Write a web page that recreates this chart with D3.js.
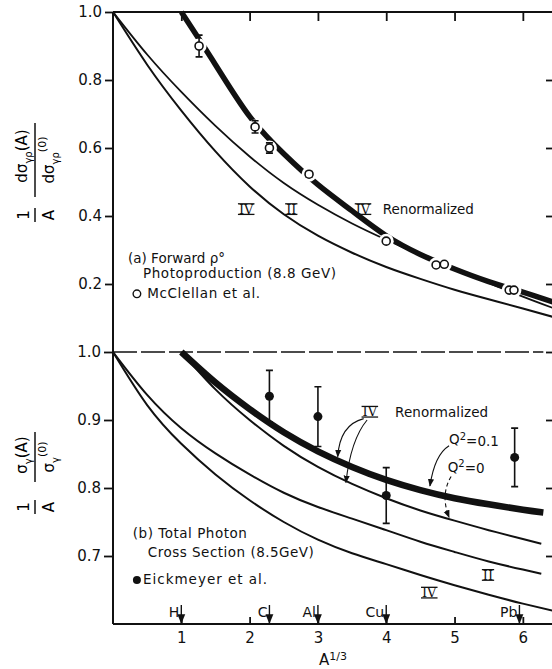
<!DOCTYPE html>
<head>
    <meta charset="utf-8">
    <title>Shadowing in photoproduction</title>
    <script src="https://d3js.org/d3.v7.min.js"></script>
    <style>
        body { margin: 0; background: #fff; }
        svg { display: block; font-family: "DejaVu Sans", sans-serif; }
        .roman { font-family: "DejaVu Serif", serif; }
    </style>
</head>
<body>
    <svg id="chart" width="552" height="669"></svg>
    <script>
        // ---- data ----
        var xTicks = [1, 2, 3, 4, 5, 6];
        var topYTicks = [0.2, 0.4, 0.6, 0.8, 1.0];
        var botYTicks = [0.7, 0.8, 0.9, 1.0];

        // (a) forward rho photoproduction
        var topIVx = [0, 0.5, 1, 1.5, 2, 2.5, 3, 3.5, 4, 4.5, 5, 5.5, 6, 6.5];
        var topIVy = [1.0, 0.845, 0.71, 0.59, 0.487, 0.405, 0.342, 0.292, 0.25, 0.215, 0.183, 0.155, 0.128, 0.10];
        var topIIx = [0, 0.5, 1, 1.5, 2, 2.5, 3, 3.5, 4, 4.5, 5, 5.5, 6, 6.5];
        var topIIy = [1.0, 0.875, 0.765, 0.665, 0.575, 0.497, 0.433, 0.378, 0.33, 0.285, 0.243, 0.203, 0.163, 0.125];
        var topRenX = [1.0, 1.5, 2.0, 2.5, 3.0, 3.5, 4.0, 4.5, 5.0, 5.5, 6.0, 6.5];
        var topRenY = [1.0, 0.845, 0.693, 0.583, 0.492, 0.415, 0.342, 0.287, 0.244, 0.207, 0.176, 0.143];
        var mcclellanX = [1.26, 2.08, 2.29, 2.87, 4.0, 4.73, 4.85, 5.80, 5.87];
        var mcclellanY = [0.90, 0.662, 0.60, 0.523, 0.326, 0.256, 0.258, 0.182, 0.182];
        var mcclellanErr = [0.032, 0.018, 0.015, 0.008, 0, 0, 0, 0, 0];

        // (b) total photon cross section
        var botIVx = [0, 0.5, 1, 1.5, 2, 2.5, 3, 3.5, 4, 4.5, 5, 5.5, 6, 6.5];
        var botIVy = [1.0, 0.922, 0.865, 0.82, 0.782, 0.75, 0.724, 0.704, 0.688, 0.672, 0.657, 0.643, 0.63, 0.618];
        var botIIx = [0, 0.5, 1, 1.5, 2, 2.5, 3, 3.5, 4, 4.5, 5, 5.5, 6, 6.27];
        var botIIy = [1.0, 0.937, 0.888, 0.851, 0.82, 0.793, 0.772, 0.755, 0.738, 0.721, 0.706, 0.692, 0.68, 0.674];
        var botQ0x = [1, 1.5, 2, 2.5, 3, 3.5, 4, 4.5, 5, 5.5, 6, 6.27];
        var botQ0y = [1.0, 0.945, 0.9, 0.862, 0.831, 0.806, 0.785, 0.767, 0.752, 0.738, 0.725, 0.718];
        var botQ01x = [1, 1.5, 2, 2.5, 3, 3.5, 4, 4.5, 5, 5.5, 6, 6.3];
        var botQ01y = [1.0, 0.955, 0.916, 0.882, 0.854, 0.831, 0.812, 0.797, 0.785, 0.776, 0.768, 0.764];
        var eickX = [2.29, 3.0, 4.0, 5.88];
        var eickY = [0.935, 0.905, 0.789, 0.845];
        var eickErr = [0.038, 0.044, 0.041, 0.043];

        var elements = ["H", "C", "Al", "Cu", "Pb"];
        var elementX = [1.0, 2.29, 3.0, 4.0, 5.95];

        // ---- scales ----
        var svg = d3.select("#chart");
        var x = d3.scaleLinear().domain([0, 6.5]).range([113, 557]);
        var yT = d3.scaleLinear().domain([0, 1]).range([352, 12]);
        var yB = d3.scaleLinear().domain([0.6, 1.0]).range([624, 352]);
        var fmt = d3.format(".1f");

        svg.append("defs").append("marker")
            .attr("id", "arr").attr("viewBox", "0 0 10 10")
            .attr("refX", 9).attr("refY", 5)
            .attr("markerWidth", 7).attr("markerHeight", 7)
            .attr("orient", "auto-start-reverse")
            .append("path").attr("d", "M0,1 L10,5 L0,9 Z").attr("fill", "#111");

        function pts(xs, ys) { return xs.map(function (v, i) { return [v, ys[i]]; }); }

        function curve(data, yScale, w, dash) {
            var line = d3.line().x(function (d) { return x(d[0]); })
                .y(function (d) { return yScale(d[1]); })
                .curve(d3.curveNatural);
            svg.append("path").datum(data).attr("d", line)
                .attr("fill", "none").attr("stroke", "#111")
                .attr("stroke-width", w).attr("stroke-linecap", "butt")
                .attr("stroke-dasharray", dash || null);
        }

        // ---- axes ----
        svg.append("line").attr("x1", x(0)).attr("x2", x(0)).attr("y1", yT(1)).attr("y2", yB(0.6))
            .attr("stroke", "#111").attr("stroke-width", 2);
        svg.append("line").attr("x1", x(0)).attr("x2", x(6.5)).attr("y1", yT(1)).attr("y2", yT(1))
            .attr("stroke", "#111").attr("stroke-width", 2);
        svg.append("line").attr("x1", x(0)).attr("x2", x(6.5)).attr("y1", yB(0.6)).attr("y2", yB(0.6))
            .attr("stroke", "#111").attr("stroke-width", 2);
        svg.append("line").attr("x1", x(0)).attr("x2", x(6.3)).attr("y1", yB(1)).attr("y2", yB(1))
            .attr("stroke", "#111").attr("stroke-width", 1.4).attr("stroke-dasharray", "24,4");

        var axT = svg.append("g").attr("transform", "translate(" + x(0) + ",0)")
            .call(d3.axisLeft(yT).tickValues(topYTicks).tickFormat(fmt).tickSize(8).tickPadding(3));
        var axB = svg.append("g").attr("transform", "translate(" + x(0) + ",0)")
            .call(d3.axisLeft(yB).tickValues(botYTicks).tickFormat(fmt).tickSize(9).tickPadding(3));
        var axTr = svg.append("g").attr("transform", "translate(" + x(6.5) + ",0)")
            .call(d3.axisLeft(yT).tickValues([0.2, 0.4, 0.6, 0.8]).tickFormat("").tickSize(11));
        var axBr = svg.append("g").attr("transform", "translate(" + x(6.5) + ",0)")
            .call(d3.axisLeft(yB).tickValues(botYTicks).tickFormat("").tickSize(11));
        var axTop = svg.append("g").attr("transform", "translate(0," + yT(1) + ")")
            .call(d3.axisBottom(x).tickValues(xTicks).tickFormat("").tickSize(9));
        var axBot = svg.append("g").attr("transform", "translate(0," + yB(0.6) + ")")
            .call(d3.axisBottom(x).tickValues(xTicks).tickFormat(d3.format("d")).tickSize(-7).tickPadding(8));
        [axT, axB, axTr, axBr, axTop, axBot].forEach(function (a) {
            a.select(".domain").remove();
            a.selectAll("line").attr("stroke", "#111").attr("stroke-width", 1.8);
            a.selectAll("text").attr("font-size", 15).attr("fill", "#111").attr("font-family", "DejaVu Sans");
        });

        // ---- panel (a) ----
        curve(pts(topIVx, topIVy), yT, 2);
        curve(pts(topIIx, topIIy), yT, 1.8);
        curve(pts(topRenX, topRenY), yT, 5.5);

        var gA = svg.append("g");
        gA.selectAll(".halo").data(mcclellanX).enter().append("circle")
            .attr("cx", function (d) { return x(d); })
            .attr("cy", function (d, i) { return yT(mcclellanY[i]); })
            .attr("r", 7.5).attr("fill", "#fff");
        gA.selectAll(".eb").data(mcclellanX.filter(function (d, i) { return mcclellanErr[i] > 0; }))
            .enter().append("path")
            .attr("d", function (d) {
                var i = mcclellanX.indexOf(d), cx = x(d);
                var y1 = yT(mcclellanY[i] + mcclellanErr[i]), y2 = yT(mcclellanY[i] - mcclellanErr[i]);
                return "M" + (cx - 3.5) + "," + y1 + "H" + (cx + 3.5) + "M" + cx + "," + y1 + "V" + y2 +
                    "M" + (cx - 3.5) + "," + y2 + "H" + (cx + 3.5);
            })
            .attr("stroke", "#111").attr("stroke-width", 1.6).attr("fill", "none");
        gA.selectAll(".pt").data(mcclellanX).enter().append("circle")
            .attr("cx", function (d) { return x(d); })
            .attr("cy", function (d, i) { return yT(mcclellanY[i]); })
            .attr("r", 4).attr("fill", "#fff").attr("stroke", "#111").attr("stroke-width", 1.6);

        function label(px, py, str, size, cls, anchor) {
            return svg.append("text").attr("x", px).attr("y", py).attr("dy", "0.35em")
                .attr("font-size", size).attr("fill", "#111")
                .attr("text-anchor", anchor || "start").attr("class", cls || null).text(str);
        }

        // roman numeral with bars above and below, as on the original lettering
        function roman(px, py, str) {
            var t = label(px, py, str, 13, "roman", "middle");
            var w = t.node().getComputedTextLength() + 2;
            [-5.4, 5.2].forEach(function (off) {
                svg.append("line").attr("x1", px - w / 2).attr("x2", px + w / 2)
                    .attr("y1", py + off).attr("y2", py + off)
                    .attr("stroke", "#111").attr("stroke-width", 1.3);
            });
        }

        roman(x(1.95), yT(0.42), "IV");
        roman(x(2.61), yT(0.42), "II");
        roman(x(3.66), yT(0.42), "IV");
        label(x(3.95), yT(0.42), "Renormalized", 13.5).attr("textLength", 91);
        label(x(0.22), yT(0.276), "(a) Forward  ρ°", 13.5);
        label(x(0.44), yT(0.232), "Photoproduction (8.8 GeV)", 13.5).attr("textLength", 193);
        label(x(0.5), yT(0.174), "McClellan et al.", 13.5).attr("textLength", 113);
        svg.append("circle").attr("cx", x(0.35)).attr("cy", yT(0.174) + 1).attr("r", 3.8)
            .attr("fill", "#fff").attr("stroke", "#111").attr("stroke-width", 1.4);

        // ---- panel (b) ----
        curve(pts(botIVx, botIVy), yB, 2);
        curve(pts(botIIx, botIIy), yB, 2);
        curve(pts(botQ0x, botQ0y), yB, 2);
        curve(pts(botQ01x, botQ01y), yB, 6.5);

        var gB = svg.append("g");
        gB.selectAll(".eb").data(eickX).enter().append("path")
            .attr("d", function (d, i) {
                var cx = x(d), y1 = yB(eickY[i] + eickErr[i]), y2 = yB(eickY[i] - eickErr[i]);
                return "M" + (cx - 3.5) + "," + y1 + "H" + (cx + 3.5) + "M" + cx + "," + y1 + "V" + y2 +
                    "M" + (cx - 3.5) + "," + y2 + "H" + (cx + 3.5);
            })
            .attr("stroke", "#111").attr("stroke-width", 1.6).attr("fill", "none");
        gB.selectAll(".pt").data(eickX).enter().append("circle")
            .attr("cx", function (d) { return x(d); })
            .attr("cy", function (d, i) { return yB(eickY[i]); })
            .attr("r", 4.5).attr("fill", "#111");

        roman(x(3.76), yB(0.912), "IV");
        label(x(4.13), yB(0.912), "Renormalized", 13.5).attr("textLength", 93);
        label(x(0.29), yB(0.734), "(b) Total  Photon", 13.5).attr("textLength", 114);
        label(x(0.51), yB(0.706), "Cross Section (8.5GeV)", 13.5).attr("textLength", 166);
        label(x(0.44), yB(0.666), "Eickmeyer  et al.", 13.5).attr("textLength", 124);
        svg.append("circle").attr("cx", x(0.35)).attr("cy", yB(0.666) + 1).attr("r", 4).attr("fill", "#111");
        roman(x(5.49), yB(0.672), "II");
        roman(x(4.63), yB(0.646), "IV");

        var q1 = label(x(4.92), yB(0.871), "Q", 13.5);
        q1.append("tspan").attr("dy", "-0.45em").attr("font-size", 10).text("2");
        q1.append("tspan").attr("dy", "0.45em").text("=0.1");
        var q0 = label(x(4.90), yB(0.831), "Q", 13.5);
        q0.append("tspan").attr("dy", "-0.45em").attr("font-size", 10).text("2");
        q0.append("tspan").attr("dy", "0.45em").text("=0");

        // curved pointer arrows (data coordinates)
        var arrows = [
            { p: [[3.67, 0.902], [3.32, 0.893], [3.29, 0.846]], dash: null },
            { p: [[3.72, 0.900], [3.48, 0.871], [3.41, 0.808]], dash: null },
            { p: [[4.92, 0.862], [4.71, 0.849], [4.64, 0.803]], dash: null },
            { p: [[4.95, 0.817], [4.79, 0.790], [4.92, 0.757]], dash: "4,3" }
        ];
        arrows.forEach(function (a) {
            var p = a.p;
            svg.append("path")
                .attr("d", "M" + x(p[0][0]) + "," + yB(p[0][1]) + " Q" + x(p[1][0]) + "," + yB(p[1][1]) +
                    " " + x(p[2][0]) + "," + yB(p[2][1]))
                .attr("fill", "none").attr("stroke", "#111").attr("stroke-width", 1.1)
                .attr("stroke-dasharray", a.dash).attr("marker-end", "url(#arr)");
        });

        // element markers on the A^1/3 axis
        elements.forEach(function (el, i) {
            var ex = x(elementX[i]);
            svg.append("line").attr("x1", ex).attr("x2", ex).attr("y1", yB(0.6) - 19).attr("y2", yB(0.6) - 1)
                .attr("stroke", "#111").attr("stroke-width", 1.4).attr("marker-end", "url(#arr)");
            svg.append("text").attr("x", ex - 2).attr("y", yB(0.6) - 7)
                .attr("text-anchor", "end").attr("font-size", 14).attr("fill", "#111").text(el);
        });

        // x-axis title
        var xt = svg.append("text").attr("x", x(3.22)).attr("y", 665).attr("text-anchor", "middle")
            .attr("font-size", 15).attr("fill", "#111").text("A");
        xt.append("tspan").attr("dy", "-0.5em").attr("font-size", 11).text("1/3");

        // y-axis titles (rotated fractions)
        function frac(cx, cy, half) {
            var g = svg.append("g").attr("transform", "translate(" + cx + "," + cy + ") rotate(-90)");
            g.append("line").attr("x1", -half).attr("x2", half).attr("stroke", "#111").attr("stroke-width", 1.5);
            return g;
        }
        var f1 = frac(35, 160, 37);
        var n1 = f1.append("text").attr("x", 4).attr("y", -8).attr("text-anchor", "middle").attr("font-size", 15);
        n1.append("tspan").text("dσ");
        n1.append("tspan").attr("dy", 5).attr("font-size", 10).text("γρ");
        n1.append("tspan").attr("dy", -5).text("(A)");
        var d1 = f1.append("text").attr("x", 0).attr("y", 19).attr("text-anchor", "middle").attr("font-size", 15);
        d1.append("tspan").text("dσ");
        d1.append("tspan").attr("dy", 5).attr("font-size", 10).text("γρ");
        d1.append("tspan").attr("dy", -13).attr("font-size", 11).text("(0)");
        var a1 = frac(35, 215, 7);
        a1.append("text").attr("y", -6).attr("text-anchor", "middle").attr("font-size", 15).text("1");
        a1.append("text").attr("y", 19).attr("text-anchor", "middle").attr("font-size", 15).text("A");

        var f2 = frac(35, 457, 25);
        var n2 = f2.append("text").attr("x", 2).attr("y", -8).attr("text-anchor", "middle").attr("font-size", 15);
        n2.append("tspan").text("σ");
        n2.append("tspan").attr("dy", 5).attr("font-size", 10).text("γ");
        n2.append("tspan").attr("dy", -5).text("(A)");
        var d2 = f2.append("text").attr("x", 0).attr("y", 19).attr("text-anchor", "middle").attr("font-size", 15);
        d2.append("tspan").text("σ");
        d2.append("tspan").attr("dy", 5).attr("font-size", 10).text("γ");
        d2.append("tspan").attr("dy", -13).attr("font-size", 11).text("(0)");
        var a2 = frac(35, 507, 7);
        a2.append("text").attr("y", -6).attr("text-anchor", "middle").attr("font-size", 15).text("1");
        a2.append("text").attr("y", 19).attr("text-anchor", "middle").attr("font-size", 15).text("A");
    </script>
</body>
